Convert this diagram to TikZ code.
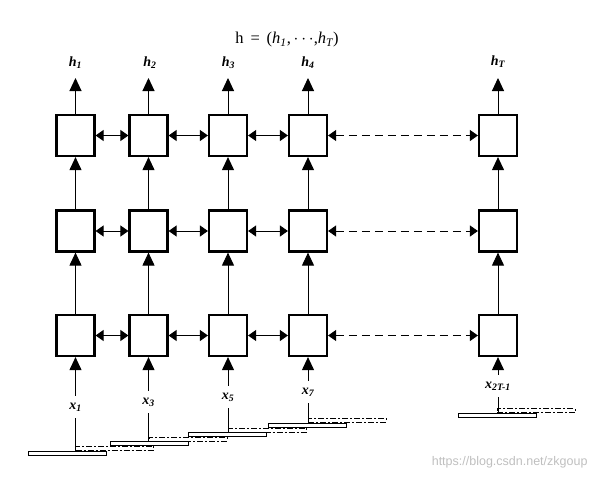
\documentclass[tikz,border=0pt]{standalone}
\usepackage{fontspec}
\setmainfont{Liberation Serif}
\newfontfamily\wmfont{Liberation Sans}
\usetikzlibrary{arrows.meta}
\begin{document}
\begin{tikzpicture}[x=1pt,y=-1pt,
  cell/.style={draw,line width=2.2pt,minimum width=38pt,minimum height=41pt,inner sep=0pt},
  varrow/.style={line width=1pt,-{Triangle[length=13pt,width=12pt]}},
  harrow/.style={line width=1pt,{Triangle[length=8pt,width=11pt]}-{Triangle[length=8pt,width=11pt]}},
  hdash/.style={harrow,dash pattern=on 8pt off 5pt},
  plain/.style={line width=1pt},
  hlab/.style={font=\fontsize{14}{16}\selectfont\bfseries\itshape,inner sep=0pt},
  xlab/.style={font=\fontsize{14}{16}\selectfont\bfseries\itshape,inner sep=0pt,minimum height=22pt},
  srect/.style={draw,line width=0.9pt,minimum width=78pt,minimum height=4pt,inner sep=0pt},
  drect/.style={srect,dash pattern=on 6pt off 2pt on 2pt off 2pt},
]
\useasboundingbox (0,0) rectangle (599,479);
% title
\node[font=\fontsize{16.5}{19}\selectfont] (title) at (287,40) {h\, =\, (\textit{h\textsubscript{1}},\,$\cdots$,\textit{h\textsubscript{T}})};
% cells and vertical arrows
\foreach \i/\x in {1/75.5,2/148.5,3/228,4/308,5/498} {
  \node[cell] (t\i) at (\x,135.5) {};
  \node[cell] (m\i) at (\x,231) {};
  \node[cell] (b\i) at (\x,335.5) {};
  \coordinate (ht\i) at (\x,78);
  \draw[varrow] (m\i.north) -- (t\i.south);
  \draw[varrow] (b\i.north) -- (m\i.south);
  \draw[varrow] (t\i.north) -- (ht\i);
}
% horizontal arrows
\foreach \r in {t,m,b} {
  \draw[harrow] (\r1.east) -- (\r2.west);
  \draw[harrow] (\r2.east) -- (\r3.west);
  \draw[harrow] (\r3.east) -- (\r4.west);
  \draw[hdash] (\r4.east) -- (\r5.west);
}
% output labels
\node[hlab] (h1) at (75.5,63) {h\textsubscript{1}};
\node[hlab] (h2) at (150,63) {h\textsubscript{2}};
\node[hlab] (h3) at (228.5,63) {h\textsubscript{3}};
\node[hlab] (h4) at (308,63) {h\textsubscript{4}};
\node[hlab] (hT) at (498,62) {h\textsubscript{T}};
% input labels
\node[xlab] (x1) at (75.5,407) {x\textsubscript{1}};
\node[xlab] (x3) at (148.5,402) {x\textsubscript{3}};
\node[xlab] (x5) at (228,397) {x\textsubscript{5}};
\node[xlab] (x7) at (308,392) {x\textsubscript{7}};
\node[xlab] (xT) at (498,386) {x\textsubscript{2T-1}};
\foreach \k/\c in {1/1,3/2,5/3,7/4,T/5} {
  \draw[varrow] (x\k.north) -- (b\c.south);
}
% bars
\node[srect] (s1) at (67.5,453) {};
\node[drect] (d1) at (114.5,448) {};
\node[srect] (s3) at (149,443) {};
\node[drect] (d3) at (188,439) {};
\node[srect] (s5) at (227,434) {};
\node[drect] (d5) at (267.5,430) {};
\node[srect] (s7) at (307,425) {};
\node[drect] (d7) at (347,420) {};
\node[srect] (sT) at (497,415) {};
\node[drect] (dT) at (536,410.5) {};
\foreach \k in {1,3,5,7,T} {
  \draw[plain] (x\k.south) -- (x\k.south |- s\k.north);
}
% watermark
\node[font=\wmfont\fontsize{12.5}{14}\selectfont,text=black!25,anchor=east] (wm) at (591,462) {https://blog.csdn.net/zkgoup};
\end{tikzpicture}
\end{document}
